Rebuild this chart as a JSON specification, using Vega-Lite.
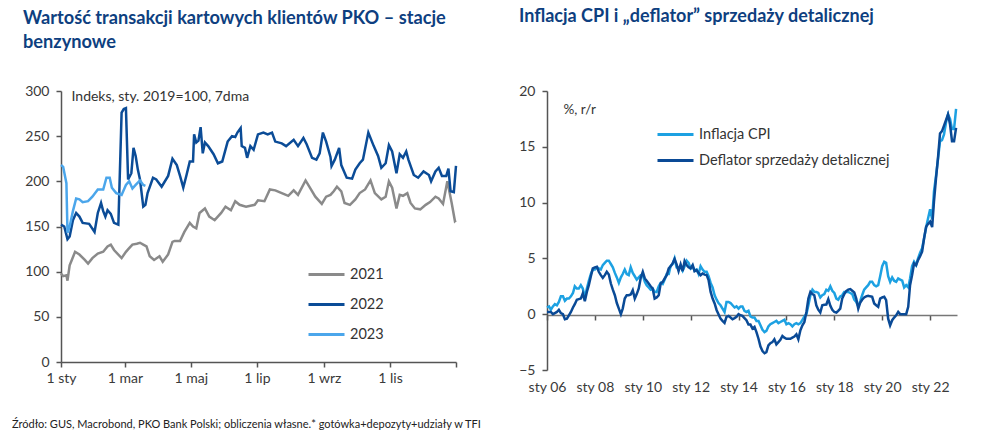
{
  "$schema": "https://vega.github.io/schema/vega-lite/v6.json",
  "padding": {"left": 12, "top": 8, "right": 5, "bottom": 5},
  "spacing": 57,
  "resolve": {"scale": {"color": "independent"}, "legend": {"color": "independent"}},
  "title": {"text": "Źródło: GUS, Macrobond, PKO Bank Polski; obliczenia własne.* gotówka+depozyty+udziały w TFI", "orient": "bottom", "anchor": "start", "fontSize": 11, "fontWeight": "normal", "color": "#222222", "offset": 25, "dx": -11, "font": "Lato"},
  "hconcat": [
    {
      "width": 395,
      "height": 271,
      "title": {"text": ["Wartość transakcji kartowych klientów PKO – stacje", "benzynowe"], "anchor": "start", "frame": "group", "dx": -38, "fontSize": 18.2, "fontWeight": "bold", "color": "#0e3f80", "lineHeight": 24, "offset": 32, "font": "Lato"},
      "data": {"values": [
        {"rok":"2021","dzien":0,"wartosc":98},{"rok":"2021","dzien":2,"wartosc":95},{"rok":"2021","dzien":5,"wartosc":96},{"rok":"2021","dzien":6,"wartosc":90},{"rok":"2021","dzien":8,"wartosc":107},{"rok":"2021","dzien":10,"wartosc":113},{"rok":"2021","dzien":13,"wartosc":122},{"rok":"2021","dzien":17,"wartosc":119},{"rok":"2021","dzien":22,"wartosc":113},{"rok":"2021","dzien":25,"wartosc":109},{"rok":"2021","dzien":29,"wartosc":115},{"rok":"2021","dzien":34,"wartosc":120},{"rok":"2021","dzien":39,"wartosc":122},{"rok":"2021","dzien":43,"wartosc":128},{"rok":"2021","dzien":46,"wartosc":130},{"rok":"2021","dzien":49,"wartosc":124},{"rok":"2021","dzien":56,"wartosc":115},{"rok":"2021","dzien":60,"wartosc":122},{"rok":"2021","dzien":63,"wartosc":126},{"rok":"2021","dzien":66,"wartosc":130},{"rok":"2021","dzien":70,"wartosc":131},{"rok":"2021","dzien":73,"wartosc":132},{"rok":"2021","dzien":76,"wartosc":130},{"rok":"2021","dzien":79,"wartosc":128},{"rok":"2021","dzien":82,"wartosc":117},{"rok":"2021","dzien":86,"wartosc":113},{"rok":"2021","dzien":91,"wartosc":117},{"rok":"2021","dzien":94,"wartosc":111},{"rok":"2021","dzien":99,"wartosc":119},{"rok":"2021","dzien":103,"wartosc":133},{"rok":"2021","dzien":105,"wartosc":134},{"rok":"2021","dzien":110,"wartosc":134},{"rok":"2021","dzien":114,"wartosc":144},{"rok":"2021","dzien":119,"wartosc":154},{"rok":"2021","dzien":122,"wartosc":150},{"rok":"2021","dzien":125,"wartosc":148},{"rok":"2021","dzien":128,"wartosc":165},{"rok":"2021","dzien":133,"wartosc":170},{"rok":"2021","dzien":137,"wartosc":161},{"rok":"2021","dzien":142,"wartosc":157},{"rok":"2021","dzien":148,"wartosc":165},{"rok":"2021","dzien":152,"wartosc":172},{"rok":"2021","dzien":157,"wartosc":168},{"rok":"2021","dzien":161,"wartosc":178},{"rok":"2021","dzien":165,"wartosc":174},{"rok":"2021","dzien":171,"wartosc":172},{"rok":"2021","dzien":179,"wartosc":174},{"rok":"2021","dzien":182,"wartosc":179},{"rok":"2021","dzien":188,"wartosc":178},{"rok":"2021","dzien":193,"wartosc":191},{"rok":"2021","dzien":198,"wartosc":190},{"rok":"2021","dzien":204,"wartosc":187},{"rok":"2021","dzien":210,"wartosc":184},{"rok":"2021","dzien":215,"wartosc":190},{"rok":"2021","dzien":219,"wartosc":185},{"rok":"2021","dzien":226,"wartosc":201},{"rok":"2021","dzien":230,"wartosc":193},{"rok":"2021","dzien":235,"wartosc":183},{"rok":"2021","dzien":241,"wartosc":175},{"rok":"2021","dzien":245,"wartosc":183},{"rok":"2021","dzien":249,"wartosc":185},{"rok":"2021","dzien":252,"wartosc":189},{"rok":"2021","dzien":255,"wartosc":194},{"rok":"2021","dzien":259,"wartosc":189},{"rok":"2021","dzien":262,"wartosc":176},{"rok":"2021","dzien":267,"wartosc":174},{"rok":"2021","dzien":272,"wartosc":180},{"rok":"2021","dzien":276,"wartosc":187},{"rok":"2021","dzien":281,"wartosc":191},{"rok":"2021","dzien":286,"wartosc":201},{"rok":"2021","dzien":290,"wartosc":187},{"rok":"2021","dzien":296,"wartosc":180},{"rok":"2021","dzien":300,"wartosc":183},{"rok":"2021","dzien":303,"wartosc":200},{"rok":"2021","dzien":306,"wartosc":193},{"rok":"2021","dzien":310,"wartosc":170},{"rok":"2021","dzien":313,"wartosc":185},{"rok":"2021","dzien":316,"wartosc":184},{"rok":"2021","dzien":320,"wartosc":187},{"rok":"2021","dzien":323,"wartosc":176},{"rok":"2021","dzien":327,"wartosc":170},{"rok":"2021","dzien":332,"wartosc":169},{"rok":"2021","dzien":337,"wartosc":174},{"rok":"2021","dzien":341,"wartosc":177},{"rok":"2021","dzien":346,"wartosc":183},{"rok":"2021","dzien":349,"wartosc":181},{"rok":"2021","dzien":353,"wartosc":175},{"rok":"2021","dzien":357,"wartosc":200},{"rok":"2021","dzien":361,"wartosc":176},{"rok":"2021","dzien":364,"wartosc":156},{"rok":"2021","dzien":365,"wartosc":157},
        {"rok":"2022","dzien":0,"wartosc":152},{"rok":"2022","dzien":3,"wartosc":150},{"rok":"2022","dzien":6,"wartosc":136},{"rok":"2022","dzien":8,"wartosc":139},{"rok":"2022","dzien":11,"wartosc":157},{"rok":"2022","dzien":14,"wartosc":165},{"rok":"2022","dzien":17,"wartosc":161},{"rok":"2022","dzien":20,"wartosc":154},{"rok":"2022","dzien":26,"wartosc":153},{"rok":"2022","dzien":31,"wartosc":144},{"rok":"2022","dzien":34,"wartosc":165},{"rok":"2022","dzien":37,"wartosc":176},{"rok":"2022","dzien":39,"wartosc":167},{"rok":"2022","dzien":41,"wartosc":161},{"rok":"2022","dzien":43,"wartosc":168},{"rok":"2022","dzien":46,"wartosc":164},{"rok":"2022","dzien":49,"wartosc":154},{"rok":"2022","dzien":53,"wartosc":152},{"rok":"2022","dzien":56,"wartosc":276},{"rok":"2022","dzien":58,"wartosc":280},{"rok":"2022","dzien":60,"wartosc":281},{"rok":"2022","dzien":62,"wartosc":202},{"rok":"2022","dzien":65,"wartosc":209},{"rok":"2022","dzien":67,"wartosc":237},{"rok":"2022","dzien":69,"wartosc":228},{"rok":"2022","dzien":71,"wartosc":213},{"rok":"2022","dzien":73,"wartosc":202},{"rok":"2022","dzien":76,"wartosc":172},{"rok":"2022","dzien":78,"wartosc":174},{"rok":"2022","dzien":80,"wartosc":187},{"rok":"2022","dzien":85,"wartosc":204},{"rok":"2022","dzien":88,"wartosc":202},{"rok":"2022","dzien":93,"wartosc":194},{"rok":"2022","dzien":99,"wartosc":206},{"rok":"2022","dzien":103,"wartosc":225},{"rok":"2022","dzien":107,"wartosc":218},{"rok":"2022","dzien":110,"wartosc":206},{"rok":"2022","dzien":113,"wartosc":193},{"rok":"2022","dzien":116,"wartosc":207},{"rok":"2022","dzien":119,"wartosc":222},{"rok":"2022","dzien":122,"wartosc":222},{"rok":"2022","dzien":123,"wartosc":252},{"rok":"2022","dzien":125,"wartosc":243},{"rok":"2022","dzien":127,"wartosc":245},{"rok":"2022","dzien":129,"wartosc":260},{"rok":"2022","dzien":131,"wartosc":231},{"rok":"2022","dzien":133,"wartosc":243},{"rok":"2022","dzien":136,"wartosc":239},{"rok":"2022","dzien":141,"wartosc":230},{"rok":"2022","dzien":145,"wartosc":220},{"rok":"2022","dzien":149,"wartosc":222},{"rok":"2022","dzien":154,"wartosc":244},{"rok":"2022","dzien":158,"wartosc":250},{"rok":"2022","dzien":161,"wartosc":249},{"rok":"2022","dzien":163,"wartosc":254},{"rok":"2022","dzien":166,"wartosc":259},{"rok":"2022","dzien":167,"wartosc":239},{"rok":"2022","dzien":170,"wartosc":237},{"rok":"2022","dzien":172,"wartosc":226},{"rok":"2022","dzien":175,"wartosc":239},{"rok":"2022","dzien":178,"wartosc":235},{"rok":"2022","dzien":182,"wartosc":252},{"rok":"2022","dzien":187,"wartosc":254},{"rok":"2022","dzien":191,"wartosc":252},{"rok":"2022","dzien":195,"wartosc":254},{"rok":"2022","dzien":198,"wartosc":244},{"rok":"2022","dzien":204,"wartosc":242},{"rok":"2022","dzien":208,"wartosc":239},{"rok":"2022","dzien":215,"wartosc":246},{"rok":"2022","dzien":219,"wartosc":239},{"rok":"2022","dzien":224,"wartosc":248},{"rok":"2022","dzien":227,"wartosc":241},{"rok":"2022","dzien":232,"wartosc":226},{"rok":"2022","dzien":236,"wartosc":224},{"rok":"2022","dzien":239,"wartosc":231},{"rok":"2022","dzien":242,"wartosc":254},{"rok":"2022","dzien":245,"wartosc":244},{"rok":"2022","dzien":249,"wartosc":227},{"rok":"2022","dzien":250,"wartosc":217},{"rok":"2022","dzien":253,"wartosc":224},{"rok":"2022","dzien":257,"wartosc":237},{"rok":"2022","dzien":259,"wartosc":218},{"rok":"2022","dzien":264,"wartosc":204},{"rok":"2022","dzien":269,"wartosc":203},{"rok":"2022","dzien":272,"wartosc":213},{"rok":"2022","dzien":276,"wartosc":220},{"rok":"2022","dzien":279,"wartosc":224},{"rok":"2022","dzien":284,"wartosc":254},{"rok":"2022","dzien":289,"wartosc":239},{"rok":"2022","dzien":293,"wartosc":228},{"rok":"2022","dzien":296,"wartosc":215},{"rok":"2022","dzien":300,"wartosc":220},{"rok":"2022","dzien":303,"wartosc":240},{"rok":"2022","dzien":306,"wartosc":233},{"rok":"2022","dzien":310,"wartosc":209},{"rok":"2022","dzien":313,"wartosc":230},{"rok":"2022","dzien":316,"wartosc":226},{"rok":"2022","dzien":319,"wartosc":233},{"rok":"2022","dzien":321,"wartosc":224},{"rok":"2022","dzien":326,"wartosc":207},{"rok":"2022","dzien":330,"wartosc":204},{"rok":"2022","dzien":335,"wartosc":211},{"rok":"2022","dzien":340,"wartosc":207},{"rok":"2022","dzien":342,"wartosc":200},{"rok":"2022","dzien":346,"wartosc":211},{"rok":"2022","dzien":349,"wartosc":215},{"rok":"2022","dzien":352,"wartosc":206},{"rok":"2022","dzien":356,"wartosc":206},{"rok":"2022","dzien":358,"wartosc":214},{"rok":"2022","dzien":360,"wartosc":189},{"rok":"2022","dzien":363,"wartosc":188},{"rok":"2022","dzien":365,"wartosc":217},
        {"rok":"2023","dzien":0,"wartosc":218},{"rok":"2023","dzien":2,"wartosc":216},{"rok":"2023","dzien":5,"wartosc":198},{"rok":"2023","dzien":6,"wartosc":143},{"rok":"2023","dzien":8,"wartosc":150},{"rok":"2023","dzien":11,"wartosc":167},{"rok":"2023","dzien":14,"wartosc":181},{"rok":"2023","dzien":17,"wartosc":180},{"rok":"2023","dzien":20,"wartosc":177},{"rok":"2023","dzien":25,"wartosc":178},{"rok":"2023","dzien":29,"wartosc":183},{"rok":"2023","dzien":34,"wartosc":191},{"rok":"2023","dzien":39,"wartosc":191},{"rok":"2023","dzien":42,"wartosc":204},{"rok":"2023","dzien":45,"wartosc":204},{"rok":"2023","dzien":47,"wartosc":193},{"rok":"2023","dzien":51,"wartosc":187},{"rok":"2023","dzien":56,"wartosc":185},{"rok":"2023","dzien":60,"wartosc":196},{"rok":"2023","dzien":63,"wartosc":200},{"rok":"2023","dzien":66,"wartosc":192},{"rok":"2023","dzien":69,"wartosc":196},{"rok":"2023","dzien":73,"wartosc":201},{"rok":"2023","dzien":76,"wartosc":196},{"rok":"2023","dzien":78,"wartosc":195}
      ]},
      "mark": {"type": "line", "strokeWidth": 2.5},
      "encoding": {
        "x": {"field": "dzien", "type": "quantitative", "scale": {"domain": [0, 365], "nice": false, "zero": false},
          "axis": {"values": [0, 59, 120, 181, 243, 304, 365], "labelExpr": "datum.value==0?'1 sty':datum.value==59?'1 mar':datum.value==120?'1 maj':datum.value==181?'1 lip':datum.value==243?'1 wrz':datum.value==304?'1 lis':''", "title": null, "labelPadding": 4, "labelFlush": false, "labelOverlap": false, "labelBound": false}},
        "y": {"field": "wartosc", "type": "quantitative", "scale": {"domain": [0, 300], "nice": false},
          "axis": {"values": [0, 50, 100, 150, 200, 250, 300], "title": "Indeks, sty. 2019=100, 7dma", "titleAngle": 0, "titleX": 10, "titleY": 5, "titleAlign": "left", "titleBaseline": "middle", "titleFontSize": 14, "titleFontWeight": "normal", "titleColor": "#333333", "labelPadding": 7}},
        "color": {"field": "rok", "type": "nominal", "scale": {"domain": ["2021", "2022", "2023"], "range": ["#8a8a8a", "#0b4c97", "#4ba6eb"]},
          "legend": {"orient": "none", "legendX": 246, "legendY": 164, "title": null, "symbolType": "stroke", "symbolStrokeWidth": 3, "symbolSize": 1296, "labelFontSize": 14.5, "labelColor": "#333333", "rowPadding": 4, "labelOffset": 4, "padding": 0}}
      }
    },
    {
      "width": 410,
      "height": 279,
      "title": {"text": "Inflacja CPI i „deflator” sprzedaży detalicznej", "anchor": "start", "frame": "group", "dx": -28, "fontSize": 18, "fontWeight": "bold", "color": "#0e3f80", "offset": 58, "font": "Lato"},
      "data": {"values": [
        {"d":"2006-01-01","cpi":0.6,"defl":0.2},{"d":"2006-02-01","cpi":0.7,"defl":0.2},{"d":"2006-03-01","cpi":0.4,"defl":0.2},{"d":"2006-04-01","cpi":0.7,"defl":0.0},{"d":"2006-05-01","cpi":0.9,"defl":0.1},{"d":"2006-06-01","cpi":0.8,"defl":0.2},{"d":"2006-07-01","cpi":1.1,"defl":0.4},{"d":"2006-08-01","cpi":1.6,"defl":0.1},{"d":"2006-09-01","cpi":1.6,"defl":0.0},{"d":"2006-10-01","cpi":1.2,"defl":-0.45},{"d":"2006-11-01","cpi":1.4,"defl":-0.4},{"d":"2006-12-01","cpi":1.4,"defl":-0.1},
        {"d":"2007-01-01","cpi":1.6,"defl":0.2},{"d":"2007-02-01","cpi":1.9,"defl":0.6},{"d":"2007-03-01","cpi":2.5,"defl":0.9},{"d":"2007-04-01","cpi":2.3,"defl":1.3},{"d":"2007-05-01","cpi":2.3,"defl":1.35},{"d":"2007-06-01","cpi":2.6,"defl":1.4},{"d":"2007-07-01","cpi":2.3,"defl":1.86},{"d":"2007-08-01","cpi":1.5,"defl":1.17},{"d":"2007-09-01","cpi":2.3,"defl":2.0},{"d":"2007-10-01","cpi":3.0,"defl":2.6},{"d":"2007-11-01","cpi":3.6,"defl":3.4},{"d":"2007-12-01","cpi":4.0,"defl":4.1},
        {"d":"2008-01-01","cpi":4.0,"defl":4.2},{"d":"2008-02-01","cpi":4.2,"defl":4.25},{"d":"2008-03-01","cpi":4.1,"defl":3.8},{"d":"2008-04-01","cpi":4.0,"defl":3.5},{"d":"2008-05-01","cpi":4.4,"defl":3.26},{"d":"2008-06-01","cpi":4.6,"defl":3.5},{"d":"2008-07-01","cpi":4.8,"defl":3.8},{"d":"2008-08-01","cpi":4.8,"defl":3.56},{"d":"2008-09-01","cpi":4.5,"defl":2.75},{"d":"2008-10-01","cpi":4.2,"defl":2.2},{"d":"2008-11-01","cpi":3.7,"defl":1.7},{"d":"2008-12-01","cpi":3.3,"defl":1.0},
        {"d":"2009-01-01","cpi":2.8,"defl":0.5},{"d":"2009-02-01","cpi":3.3,"defl":0.0},{"d":"2009-03-01","cpi":3.6,"defl":0.5},{"d":"2009-04-01","cpi":4.0,"defl":1.4},{"d":"2009-05-01","cpi":3.6,"defl":1.7},{"d":"2009-06-01","cpi":3.5,"defl":1.7},{"d":"2009-07-01","cpi":4.2,"defl":1.77},{"d":"2009-08-01","cpi":3.7,"defl":2.15},{"d":"2009-09-01","cpi":3.4,"defl":1.4},{"d":"2009-10-01","cpi":3.1,"defl":1.8},{"d":"2009-11-01","cpi":3.3,"defl":2.3},{"d":"2009-12-01","cpi":3.5,"defl":3.26},
        {"d":"2010-01-01","cpi":3.5,"defl":3.8},{"d":"2010-02-01","cpi":2.9,"defl":3.2},{"d":"2010-03-01","cpi":2.6,"defl":3.0},{"d":"2010-04-01","cpi":2.4,"defl":2.75},{"d":"2010-05-01","cpi":2.2,"defl":2.5},{"d":"2010-06-01","cpi":2.3,"defl":2.3},{"d":"2010-07-01","cpi":2.0,"defl":1.4},{"d":"2010-08-01","cpi":2.0,"defl":1.5},{"d":"2010-09-01","cpi":2.5,"defl":1.7},{"d":"2010-10-01","cpi":2.8,"defl":2.75},{"d":"2010-11-01","cpi":2.7,"defl":2.9},{"d":"2010-12-01","cpi":3.1,"defl":3.2},
        {"d":"2011-01-01","cpi":3.6,"defl":3.5},{"d":"2011-02-01","cpi":3.6,"defl":4.1},{"d":"2011-03-01","cpi":4.3,"defl":4.3},{"d":"2011-04-01","cpi":4.5,"defl":4.55},{"d":"2011-05-01","cpi":5.0,"defl":4.94},{"d":"2011-06-01","cpi":4.2,"defl":4.46},{"d":"2011-07-01","cpi":4.1,"defl":3.86},{"d":"2011-08-01","cpi":4.3,"defl":4.46},{"d":"2011-09-01","cpi":3.9,"defl":3.86},{"d":"2011-10-01","cpi":4.3,"defl":4.76},{"d":"2011-11-01","cpi":4.8,"defl":4.4},{"d":"2011-12-01","cpi":4.6,"defl":4.2},
        {"d":"2012-01-01","cpi":4.1,"defl":4.1},{"d":"2012-02-01","cpi":4.3,"defl":4.4},{"d":"2012-03-01","cpi":3.9,"defl":3.86},{"d":"2012-04-01","cpi":4.0,"defl":3.95},{"d":"2012-05-01","cpi":3.6,"defl":3.7},{"d":"2012-06-01","cpi":4.3,"defl":3.5},{"d":"2012-07-01","cpi":4.0,"defl":3.65},{"d":"2012-08-01","cpi":3.8,"defl":3.55},{"d":"2012-09-01","cpi":3.8,"defl":3.5},{"d":"2012-10-01","cpi":3.4,"defl":3.05},{"d":"2012-11-01","cpi":2.8,"defl":2.0},{"d":"2012-12-01","cpi":2.4,"defl":1.4},
        {"d":"2013-01-01","cpi":1.7,"defl":0.96},{"d":"2013-02-01","cpi":1.3,"defl":0.36},{"d":"2013-03-01","cpi":1.0,"defl":0.0},{"d":"2013-04-01","cpi":0.8,"defl":-0.4},{"d":"2013-05-01","cpi":0.5,"defl":-0.6},{"d":"2013-06-01","cpi":0.2,"defl":-0.78},{"d":"2013-07-01","cpi":1.1,"defl":-0.24},{"d":"2013-08-01","cpi":1.1,"defl":-0.15},{"d":"2013-09-01","cpi":1.0,"defl":-0.3},{"d":"2013-10-01","cpi":0.8,"defl":-0.45},{"d":"2013-11-01","cpi":0.6,"defl":-0.35},{"d":"2013-12-01","cpi":0.7,"defl":-0.24},
        {"d":"2014-01-01","cpi":0.5,"defl":0.0},{"d":"2014-02-01","cpi":0.7,"defl":-0.1},{"d":"2014-03-01","cpi":0.7,"defl":-0.15},{"d":"2014-04-01","cpi":0.3,"defl":-0.35},{"d":"2014-05-01","cpi":0.2,"defl":-0.54},{"d":"2014-06-01","cpi":0.3,"defl":-0.93},{"d":"2014-07-01","cpi":-0.2,"defl":-0.93},{"d":"2014-08-01","cpi":-0.3,"defl":-1.29},{"d":"2014-09-01","cpi":-0.3,"defl":-1.14},{"d":"2014-10-01","cpi":-0.6,"defl":-1.6},{"d":"2014-11-01","cpi":-0.6,"defl":-2.2},{"d":"2014-12-01","cpi":-1.0,"defl":-2.9},
        {"d":"2015-01-01","cpi":-1.4,"defl":-3.3},{"d":"2015-02-01","cpi":-1.6,"defl":-3.5},{"d":"2015-03-01","cpi":-1.5,"defl":-3.4},{"d":"2015-04-01","cpi":-1.1,"defl":-2.8},{"d":"2015-05-01","cpi":-0.9,"defl":-2.6},{"d":"2015-06-01","cpi":-0.8,"defl":-2.5},{"d":"2015-07-01","cpi":-0.7,"defl":-2.25},{"d":"2015-08-01","cpi":-0.6,"defl":-2.7},{"d":"2015-09-01","cpi":-0.8,"defl":-2.5},{"d":"2015-10-01","cpi":-0.7,"defl":-2.3},{"d":"2015-11-01","cpi":-0.6,"defl":-1.95},{"d":"2015-12-01","cpi":-0.5,"defl":-2.1},
        {"d":"2016-01-01","cpi":-0.9,"defl":-2.2},{"d":"2016-02-01","cpi":-0.8,"defl":-2.2},{"d":"2016-03-01","cpi":-0.9,"defl":-2.2},{"d":"2016-04-01","cpi":-1.1,"defl":-2.1},{"d":"2016-05-01","cpi":-0.9,"defl":-2.0},{"d":"2016-06-01","cpi":-0.8,"defl":-1.8},{"d":"2016-07-01","cpi":-0.9,"defl":-2.25},{"d":"2016-08-01","cpi":-0.8,"defl":-1.44},{"d":"2016-09-01","cpi":-0.5,"defl":-1.0},{"d":"2016-10-01","cpi":-0.2,"defl":-0.7},{"d":"2016-11-01","cpi":0.0,"defl":0.2},{"d":"2016-12-01","cpi":0.8,"defl":1.4},
        {"d":"2017-01-01","cpi":1.7,"defl":2.0},{"d":"2017-02-01","cpi":2.2,"defl":1.8},{"d":"2017-03-01","cpi":2.0,"defl":1.7},{"d":"2017-04-01","cpi":2.0,"defl":0.8},{"d":"2017-05-01","cpi":1.9,"defl":0.4},{"d":"2017-06-01","cpi":1.5,"defl":0.15},{"d":"2017-07-01","cpi":1.7,"defl":0.8},{"d":"2017-08-01","cpi":1.8,"defl":0.85},{"d":"2017-09-01","cpi":2.2,"defl":0.87},{"d":"2017-10-01","cpi":2.1,"defl":1.35},{"d":"2017-11-01","cpi":2.5,"defl":0.75},{"d":"2017-12-01","cpi":2.1,"defl":0.4},
        {"d":"2018-01-01","cpi":1.9,"defl":0.2},{"d":"2018-02-01","cpi":1.4,"defl":0.15},{"d":"2018-03-01","cpi":1.3,"defl":0.3},{"d":"2018-04-01","cpi":1.6,"defl":0.5},{"d":"2018-05-01","cpi":1.7,"defl":1.4},{"d":"2018-06-01","cpi":2.0,"defl":1.8},{"d":"2018-07-01","cpi":2.0,"defl":2.07},{"d":"2018-08-01","cpi":2.0,"defl":2.2},{"d":"2018-09-01","cpi":1.9,"defl":2.25},{"d":"2018-10-01","cpi":1.8,"defl":2.1},{"d":"2018-11-01","cpi":1.3,"defl":1.95},{"d":"2018-12-01","cpi":1.1,"defl":1.4},
        {"d":"2019-01-01","cpi":0.7,"defl":0.5},{"d":"2019-02-01","cpi":1.2,"defl":1.05},{"d":"2019-03-01","cpi":1.7,"defl":1.3},{"d":"2019-04-01","cpi":2.2,"defl":1.5},{"d":"2019-05-01","cpi":2.4,"defl":1.6},{"d":"2019-06-01","cpi":2.6,"defl":1.65},{"d":"2019-07-01","cpi":2.9,"defl":1.6},{"d":"2019-08-01","cpi":2.9,"defl":1.56},{"d":"2019-09-01","cpi":2.6,"defl":0.96},{"d":"2019-10-01","cpi":2.5,"defl":0.8},{"d":"2019-11-01","cpi":2.6,"defl":0.66},{"d":"2019-12-01","cpi":3.4,"defl":1.4},
        {"d":"2020-01-01","cpi":4.3,"defl":1.5},{"d":"2020-02-01","cpi":4.7,"defl":1.56},{"d":"2020-03-01","cpi":4.6,"defl":1.26},{"d":"2020-04-01","cpi":3.4,"defl":-0.4},{"d":"2020-05-01","cpi":2.9,"defl":-1.0},{"d":"2020-06-01","cpi":3.3,"defl":-0.54},{"d":"2020-07-01","cpi":3.0,"defl":-0.3},{"d":"2020-08-01","cpi":2.9,"defl":-0.1},{"d":"2020-09-01","cpi":3.2,"defl":0.2},{"d":"2020-10-01","cpi":3.1,"defl":0.0},{"d":"2020-11-01","cpi":3.0,"defl":0.0},{"d":"2020-12-01","cpi":2.4,"defl":0.0},
        {"d":"2021-01-01","cpi":2.6,"defl":0.0},{"d":"2021-02-01","cpi":2.4,"defl":0.66},{"d":"2021-03-01","cpi":3.2,"defl":2.6},{"d":"2021-04-01","cpi":4.3,"defl":3.5},{"d":"2021-05-01","cpi":4.7,"defl":4.55},{"d":"2021-06-01","cpi":4.4,"defl":4.4},{"d":"2021-07-01","cpi":5.0,"defl":4.85},{"d":"2021-08-01","cpi":5.5,"defl":5.2},{"d":"2021-09-01","cpi":5.9,"defl":5.6},{"d":"2021-10-01","cpi":6.8,"defl":6.8},{"d":"2021-11-01","cpi":7.8,"defl":7.84},{"d":"2021-12-01","cpi":8.6,"defl":8.1},
        {"d":"2022-01-01","cpi":9.4,"defl":8.3},{"d":"2022-02-01","cpi":8.5,"defl":7.8},{"d":"2022-03-01","cpi":11.0,"defl":10.1},{"d":"2022-04-01","cpi":12.4,"defl":12.2},{"d":"2022-05-01","cpi":13.9,"defl":14.0},{"d":"2022-06-01","cpi":15.5,"defl":16.2},{"d":"2022-07-01","cpi":15.6,"defl":16.4},{"d":"2022-08-01","cpi":16.1,"defl":16.9},{"d":"2022-09-01","cpi":17.2,"defl":17.4},{"d":"2022-10-01","cpi":17.9,"defl":17.9},{"d":"2022-11-01","cpi":17.5,"defl":17.0},{"d":"2022-12-01","cpi":16.6,"defl":15.5},
        {"d":"2023-01-01","cpi":16.6,"defl":15.5},{"d":"2023-02-01","cpi":18.4,"defl":16.7}
      ]},
      "transform": [{"fold": ["cpi", "defl"], "as": ["seria", "v"]}],
      "mark": {"type": "line", "strokeWidth": 2.5},
      "encoding": {
        "x": {"field": "d", "type": "temporal",
          "scale": {"type": "utc", "domain": [{"year": 2006, "month": 1, "date": 1, "utc": true}, {"year": 2023, "month": 2, "date": 15, "utc": true}], "nice": false},
          "axis": {"values": [
            {"year": 2006, "month": 1, "date": 1, "utc": true}, {"year": 2008, "month": 1, "date": 1, "utc": true}, {"year": 2010, "month": 1, "date": 1, "utc": true}, {"year": 2012, "month": 1, "date": 1, "utc": true}, {"year": 2014, "month": 1, "date": 1, "utc": true}, {"year": 2016, "month": 1, "date": 1, "utc": true}, {"year": 2018, "month": 1, "date": 1, "utc": true}, {"year": 2020, "month": 1, "date": 1, "utc": true}, {"year": 2022, "month": 1, "date": 1, "utc": true}],
            "labelExpr": "'sty ' + utcFormat(datum.value, '%y')", "title": null, "offset": -55, "labelPadding": 60, "labelFlush": false, "labelOverlap": false, "labelBound": false, "domainColor": "#777777", "tickColor": "#555555"}},
        "y": {"field": "v", "type": "quantitative", "scale": {"domain": [-5, 20], "nice": false, "zero": false},
          "axis": {"values": [-5, 0, 5, 10, 15, 20], "title": "%, r/r", "titleAngle": 0, "titleX": 16, "titleY": 18, "titleAlign": "left", "titleBaseline": "middle", "titleFontSize": 13.5, "titleFontWeight": "normal", "titleColor": "#333333", "labelPadding": 7}},
        "color": {"field": "seria", "type": "nominal", "scale": {"domain": ["cpi", "defl"], "range": ["#1da1e2", "#0a4a96"]},
          "legend": {"orient": "none", "legendX": 109, "legendY": 24, "title": null, "symbolType": "stroke", "symbolStrokeWidth": 3, "symbolSize": 1296, "labelFontSize": 14.5, "labelColor": "#333333", "labelLimit": 0, "rowPadding": -2, "labelOffset": 4, "padding": 0, "labelExpr": "datum.label == 'cpi' ? 'Inflacja CPI' : 'Deflator sprzedaży detalicznej'"}}
      }
    }
  ],
  "config": {
    "font": "Lato",
    "view": {"stroke": null},
    "axis": {"labelFont": "Lato", "labelFontSize": 14, "labelColor": "#3a3a3a", "domainColor": "#555555", "tickColor": "#555555", "domainWidth": 1.5, "tickWidth": 1.5, "tickSize": 5, "grid": false, "titleFont": "Lato"},
    "legend": {"labelFont": "Lato"}
  }
}
